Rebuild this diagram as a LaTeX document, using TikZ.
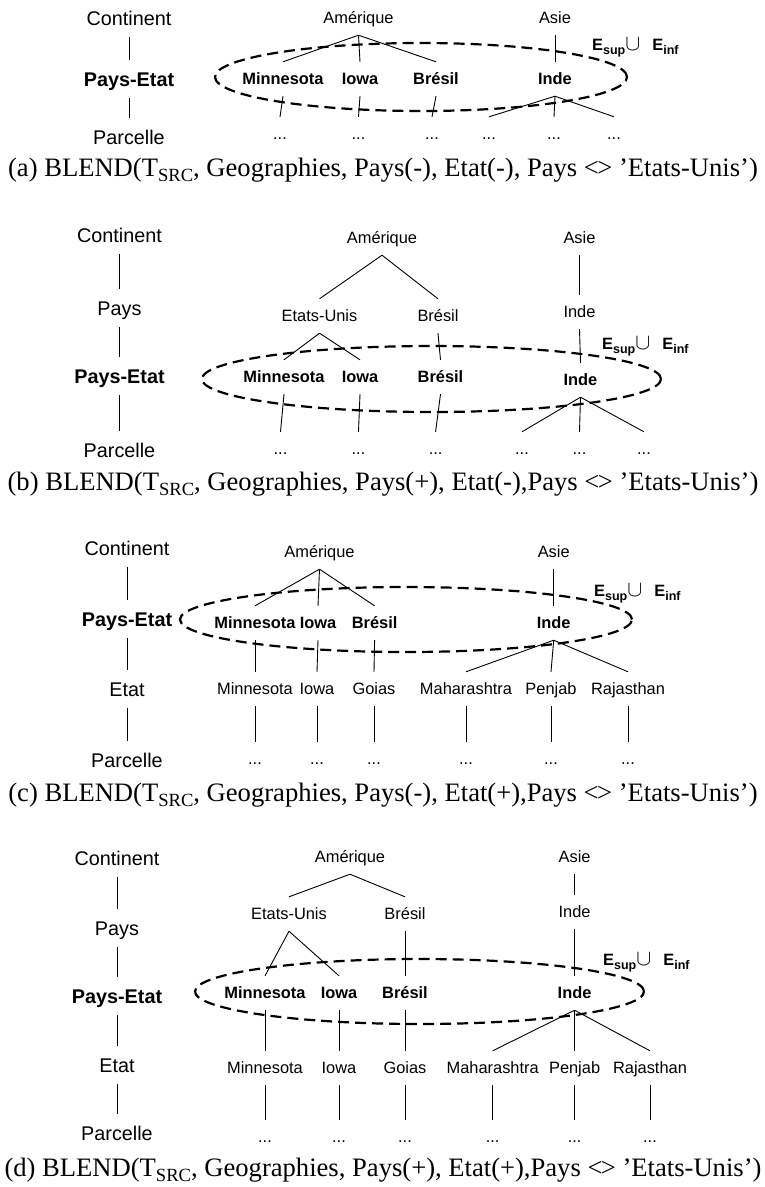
\documentclass[tikz,border=0pt]{standalone}
\usepackage{fontspec}
\usepackage{graphicx}
\setmainfont{Liberation Sans}
\newfontfamily\capfont{Liberation Serif}
\newcommand\Tsrc{T\raisebox{-5pt}{\fontsize{18.6}{20}\selectfont SRC}}
\newcommand\EsupEinf{E\raisebox{-4pt}{\fontsize{12.5}{13}\selectfont sup}\scalebox{1.3}{$\cup$}\hspace{12pt}E\raisebox{-4pt}{\fontsize{12.5}{13}\selectfont inf}}
\newcommand\ltgt{<\kern-0.06em>}
\tikzset{
  lbl/.style={font=\fontsize{16.4}{18}\selectfont, text height=11.7pt, text depth=0pt, inner sep=0pt, minimum height=34pt},
  blbl/.style={lbl, font=\fontsize{16.4}{18}\selectfont\bfseries},
  lvl/.style={font=\fontsize{19.8}{22}\selectfont, text height=14.2pt, text depth=0pt, inner sep=0pt, minimum height=38pt},
  blvl/.style={lvl, font=\fontsize{19.8}{22}\selectfont\bfseries},
  elbl/.style={font=\fontsize{16.4}{18}\selectfont\bfseries, text height=11.7pt, text depth=0pt, inner sep=0pt, anchor=west},
  capt/.style={font=\capfont\fontsize{26.6}{28}\selectfont, text height=17.6pt, text depth=0pt, inner sep=0pt},
  edge/.style={line width=0.9pt},
  blend/.style={line width=2.2pt, dash pattern=on 11pt off 6pt},
}
\begin{document}
\begin{tikzpicture}[x=1pt,y=-1pt]
\useasboundingbox (0,0) rectangle (764,1187);
% ---------------- Panel (a)
\node[lvl]  (aC)  at (129,18)  {Continent};
\node[blvl] (aPE) at (129,79)  {Pays-Etat};
\node[lvl]  (aPa) at (129,137) {Parcelle};
\draw[edge] (aC) -- (aPE);
\draw[edge] (aPE) -- (aPa);
\node[lbl] (aAm) at (358.5,18) {Amérique};
\node[lbl] (aAs) at (555,18) {Asie};
\node[blbl] (aMn) at (283,79) {Minnesota};
\node[blbl] (aIo) at (360,79) {Iowa};
\node[blbl] (aBr) at (436,79) {Brésil};
\node[blbl] (aIn) at (555,79) {Inde};
\node[lbl] (ad1) at (280,134) {...};
\node[lbl] (ad2) at (358.5,134) {...};
\node[lbl] (ad3) at (432,134) {...};
\node[lbl] (ad4) at (489,134) {...};
\node[lbl] (ad5) at (554,134) {...};
\node[lbl] (ad6) at (614,134) {...};
\draw[edge] (aAm.south) -- (aMn.north);
\draw[edge] (aAm.south) -- (aIo.north);
\draw[edge] (aAm.south) -- (aBr.north);
\draw[edge] (aAs.south) -- (aIn.north);
\draw[edge] (aMn.south) -- (ad1.north);
\draw[edge] (aIo.south) -- (ad2.north);
\draw[edge] (aBr.south) -- (ad3.north);
\draw[edge] (aIn.south) -- (ad4.north);
\draw[edge] (aIn.south) -- (ad5.north);
\draw[edge] (aIn.south) -- (ad6.north);
\draw[blend] (421,77) ellipse [x radius=206pt, y radius=34pt];
\node[elbl] (aE) at (592,45) {\EsupEinf};
\node[capt] (aCap) at (383,168) {(a) BLEND(\Tsrc, Geographies, Pays(-), Etat(-), Pays \ltgt{} ’Etats-Unis’)};
% ---------------- Panel (b)
\node[lvl]  (bC)  at (119.5,235) {Continent};
\node[lvl]  (bP)  at (119.5,308) {Pays};
\node[blvl] (bPE) at (119.5,376) {Pays-Etat};
\node[lvl]  (bPa) at (119.5,450) {Parcelle};
\draw[edge] (bC) -- (bP);
\draw[edge] (bP) -- (bPE);
\draw[edge] (bPE) -- (bPa);
\node[lbl] (bAm) at (382,238) {Amérique};
\node[lbl] (bAs) at (579.5,238) {Asie};
\node[lbl] (bEU) at (319.5,316) {Etats-Unis};
\node[lbl] (bBr1) at (438,316) {Brésil};
\node[lbl] (bIn1) at (579.5,312) {Inde};
\node[blbl] (bMn) at (284,377) {Minnesota};
\node[blbl] (bIo) at (360,377) {Iowa};
\node[blbl] (bBr) at (440.5,377) {Brésil};
\node[blbl] (bIn) at (580.5,380) {Inde};
\node[lbl] (bd1) at (280.5,449) {...};
\node[lbl] (bd2) at (358.5,449) {...};
\node[lbl] (bd3) at (435.6,449) {...};
\node[lbl] (bd4) at (522,449) {...};
\node[lbl] (bd5) at (579.5,449) {...};
\node[lbl] (bd6) at (644,449) {...};
\draw[edge] (bAm.south) -- (bEU.north);
\draw[edge] (bAm.south) -- (bBr1.north);
\draw[edge] (bAs.south) -- (bIn1.north);
\draw[edge] (bEU.south) -- (bMn.north);
\draw[edge] (bEU.south) -- (bIo.north);
\draw[edge] (bBr1.south) -- (bBr.north);
\draw[edge] (bIn1.south) -- (bIn.north);
\draw[edge] (bMn.south) -- (bd1.north);
\draw[edge] (bIo.south) -- (bd2.north);
\draw[edge] (bBr.south) -- (bd3.north);
\draw[edge] (bIn.south) -- (bd4.north);
\draw[edge] (bIn.south) -- (bd5.north);
\draw[edge] (bIn.south) -- (bd6.north);
\draw[blend] (431.5,379) ellipse [x radius=229.5pt, y radius=33pt];
\node[elbl] (bE) at (602,344) {\EsupEinf};
\node[capt] (bCap) at (383,481.5) {(b) BLEND(\Tsrc, Geographies, Pays(+), Etat(-),Pays \ltgt{} ’Etats-Unis’)};
% ---------------- Panel (c)
\node[lvl]  (cC)  at (127,548) {Continent};
\node[blvl] (cPE) at (127,619) {Pays-Etat};
\node[lvl]  (cEt) at (127,689) {Etat};
\node[lvl]  (cPa) at (127,760) {Parcelle};
\draw[edge] (cC) -- (cPE);
\draw[edge] (cPE) -- (cEt);
\draw[edge] (cEt) -- (cPa);
\node[lbl] (cAm) at (319.5,552) {Amérique};
\node[lbl] (cAs) at (553.7,552) {Asie};
\node[blbl] (cMn) at (255,623) {Minnesota};
\node[blbl] (cIo) at (318,623) {Iowa};
\node[blbl] (cBr) at (374.6,623) {Brésil};
\node[blbl] (cIn) at (553.7,623) {Inde};
\node[lbl] (ceMn) at (255,689) {Minnesota};
\node[lbl] (ceIo) at (317,689) {Iowa};
\node[lbl] (ceGo) at (374,689) {Goias};
\node[lbl] (ceMa) at (466,689) {Maharashtra};
\node[lbl] (cePe) at (551,689) {Penjab};
\node[lbl] (ceRa) at (628,689) {Rajasthan};
\node[lbl] (cd1) at (255,759) {...};
\node[lbl] (cd2) at (317,759) {...};
\node[lbl] (cd3) at (374,759) {...};
\node[lbl] (cd4) at (466,759) {...};
\node[lbl] (cd5) at (551,759) {...};
\node[lbl] (cd6) at (628,759) {...};
\draw[edge] (cAm.south) -- (cMn.north);
\draw[edge] (cAm.south) -- (cIo.north);
\draw[edge] (cAm.south) -- (cBr.north);
\draw[edge] (cAs.south) -- (cIn.north);
\draw[edge] (cMn.south) -- (ceMn.north);
\draw[edge] (cIo.south) -- (ceIo.north);
\draw[edge] (cBr.south) -- (ceGo.north);
\draw[edge] (cIn.south) -- (ceMa.north);
\draw[edge] (cIn.south) -- (cePe.north);
\draw[edge] (cIn.south) -- (ceRa.north);
\draw[edge] (ceMn.south) -- (cd1.north);
\draw[edge] (ceIo.south) -- (cd2.north);
\draw[edge] (ceGo.south) -- (cd3.north);
\draw[edge] (ceMa.south) -- (cd4.north);
\draw[edge] (cePe.south) -- (cd5.north);
\draw[edge] (ceRa.south) -- (cd6.north);
\draw[blend] (406,619.5) ellipse [x radius=226pt, y radius=32.5pt];
\node[elbl] (cE) at (594,591) {\EsupEinf};
\node[capt] (cCap) at (383,793) {(c) BLEND(\Tsrc, Geographies, Pays(-), Etat(+),Pays \ltgt{} ’Etats-Unis’)};
% ---------------- Panel (d)
\node[lvl]  (dC)  at (117,858)  {Continent};
\node[lvl]  (dP)  at (117,928)  {Pays};
\node[blvl] (dPE) at (117,996)  {Pays-Etat};
\node[lvl]  (dEt) at (117,1065) {Etat};
\node[lvl]  (dPa) at (117,1133) {Parcelle};
\draw[edge] (dC) -- (dP);
\draw[edge] (dP) -- (dPE);
\draw[edge] (dPE) -- (dEt);
\draw[edge] (dEt) -- (dPa);
\node[lbl] (dAm) at (350,857) {Amérique};
\node[lbl] (dAs) at (574.6,857) {Asie};
\node[lbl] (dEU) at (289,914) {Etats-Unis};
\node[lbl] (dBr1) at (405,914) {Brésil};
\node[lbl] (dIn1) at (574.6,912) {Inde};
\node[blbl] (dMn) at (265,993) {Minnesota};
\node[blbl] (dIo) at (339,993) {Iowa};
\node[blbl] (dBr) at (405,993) {Brésil};
\node[blbl] (dIn) at (574.6,993) {Inde};
\node[lbl] (deMn) at (265,1068) {Minnesota};
\node[lbl] (deIo) at (339,1068) {Iowa};
\node[lbl] (deGo) at (405,1068) {Goias};
\node[lbl] (deMa) at (492.7,1068) {Maharashtra};
\node[lbl] (dePe) at (574.6,1068) {Penjab};
\node[lbl] (deRa) at (650,1068) {Rajasthan};
\node[lbl] (dd1) at (265,1137) {...};
\node[lbl] (dd2) at (339,1137) {...};
\node[lbl] (dd3) at (405,1137) {...};
\node[lbl] (dd4) at (492.7,1137) {...};
\node[lbl] (dd5) at (574.6,1137) {...};
\node[lbl] (dd6) at (650,1137) {...};
\draw[edge] (dAm.south) -- (dEU.north);
\draw[edge] (dAm.south) -- (dBr1.north);
\draw[edge] (dAs.south) -- (dIn1.north);
\draw[edge] (dEU.south) -- (dMn.north);
\draw[edge] (dEU.south) -- (dIo.north);
\draw[edge] (dBr1.south) -- (dBr.north);
\draw[edge] (dIn1.south) -- (dIn.north);
\draw[edge] (dMn.south) -- (deMn.north);
\draw[edge] (dIo.south) -- (deIo.north);
\draw[edge] (dBr.south) -- (deGo.north);
\draw[edge] (dIn.south) -- (deMa.north);
\draw[edge] (dIn.south) -- (dePe.north);
\draw[edge] (dIn.south) -- (deRa.north);
\draw[edge] (deMn.south) -- (dd1.north);
\draw[edge] (deIo.south) -- (dd2.north);
\draw[edge] (deGo.south) -- (dd3.north);
\draw[edge] (deMa.south) -- (dd4.north);
\draw[edge] (dePe.south) -- (dd5.north);
\draw[edge] (deRa.south) -- (dd6.north);
\draw[blend] (419.5,991.5) ellipse [x radius=224.5pt, y radius=32.5pt];
\node[elbl] (dE) at (603,960) {\EsupEinf};
\node[capt] (dCap) at (383,1168) {(d) BLEND(\Tsrc, Geographies, Pays(+), Etat(+),Pays \ltgt{} ’Etats-Unis’)};
\end{tikzpicture}
\end{document}
